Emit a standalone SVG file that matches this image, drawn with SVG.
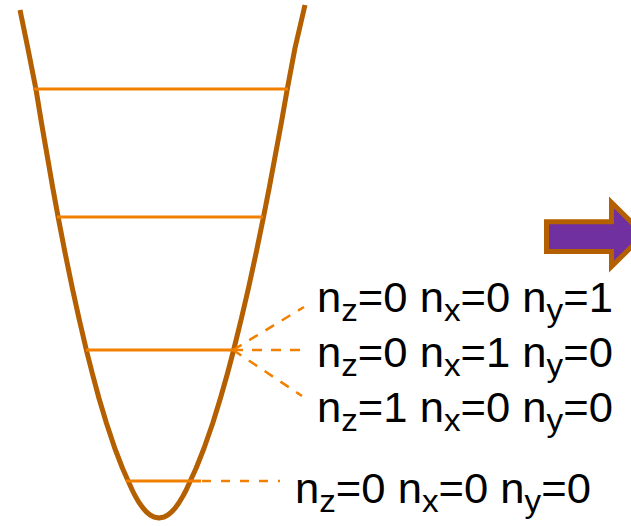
<svg xmlns="http://www.w3.org/2000/svg" width="631" height="526" viewBox="0 0 631 526">
<style>
.well{fill:none;stroke:#B45F00;stroke-width:5;stroke-linejoin:round;stroke-linecap:butt}
.lvl{stroke:#F18000;stroke-width:3;fill:none}
.dash{stroke:#F18000;stroke-width:2.5;fill:none;stroke-dasharray:10 9}
.lbl{font-family:"Liberation Sans",Arial,sans-serif;font-size:42px;fill:#000}
.sub{font-size:32px}
</style>
<rect width="631" height="526" fill="#fff"/>
<g id="well">
<path class="well" d="M20,10 L27.8,48 L36.1,90 L41.5,123 L47.6,158 L52.8,188 L58.3,218 L65.1,253 L72.3,288 L78.9,318 L86.6,351 L92.2,373 L98.9,398 L106.4,423 L114.7,448 L122.4,468 L128.6,482 L132.2,490 L135.2,496 L139.3,503 L143,508 L146.5,512 L150.2,515 L153.9,517 L159,518 L164.1,517 L167.8,515 L171.5,512 L175.2,508 L178.8,503 L183,496 L186.2,490 L189.8,482 L196.2,468 L204.1,448 L212.8,423 L220.5,398 L227.6,373 L233.4,351 L241.5,318 L248.5,288 L256.1,253 L263.3,218 L269.2,188 L274.8,158 L281.3,123 L287.1,90 L295,48 L305,5"/>
</g>
<g id="levels">
<line class="lvl" x1="33" y1="89" x2="288" y2="89"/>
<line class="lvl" x1="57" y1="217" x2="263" y2="217"/>
<line class="lvl" x1="86" y1="350" x2="234" y2="350"/>
<line class="lvl" x1="126" y1="481" x2="201" y2="481"/>
</g>
<g id="connectors">
<line class="dash" x1="233" y1="350" x2="304" y2="307"/>
<line class="dash" x1="233" y1="350" x2="304" y2="350"/>
<line class="dash" x1="233" y1="350" x2="302" y2="396"/>
<line class="dash" x1="202" y1="481" x2="280" y2="481" style="stroke-dasharray:9 10"/>
</g>
<g id="label1" transform="translate(317,312) scale(1.038,1)">
<text class="lbl">n<tspan class="sub" dy="9">z</tspan><tspan dy="-9">=0 n</tspan><tspan class="sub" dy="9">x</tspan><tspan dy="-9">=0 n</tspan><tspan class="sub" dy="9">y</tspan><tspan dy="-9">=1</tspan></text>
</g>
<g id="label2" transform="translate(317,367) scale(1.038,1)">
<text class="lbl">n<tspan class="sub" dy="9">z</tspan><tspan dy="-9">=0 n</tspan><tspan class="sub" dy="9">x</tspan><tspan dy="-9">=1 n</tspan><tspan class="sub" dy="9">y</tspan><tspan dy="-9">=0</tspan></text>
</g>
<g id="label3" transform="translate(317,422) scale(1.038,1)">
<text class="lbl">n<tspan class="sub" dy="9">z</tspan><tspan dy="-9">=1 n</tspan><tspan class="sub" dy="9">x</tspan><tspan dy="-9">=0 n</tspan><tspan class="sub" dy="9">y</tspan><tspan dy="-9">=0</tspan></text>
</g>
<g id="label4" transform="translate(295,503) scale(1.038,1)">
<text class="lbl">n<tspan class="sub" dy="9">z</tspan><tspan dy="-9">=0 n</tspan><tspan class="sub" dy="9">x</tspan><tspan dy="-9">=0 n</tspan><tspan class="sub" dy="9">y</tspan><tspan dy="-9">=0</tspan></text>
</g>
<g id="arrow">
<path d="M546.5,221.8 L611.5,221.8 L611.5,202.5 L644,234.5 L611.5,266.5 L611.5,251.5 L546.5,251.5 Z" fill="#7030A0" stroke="#B45F00" stroke-width="5" stroke-linejoin="miter"/>
</g>
</svg>
